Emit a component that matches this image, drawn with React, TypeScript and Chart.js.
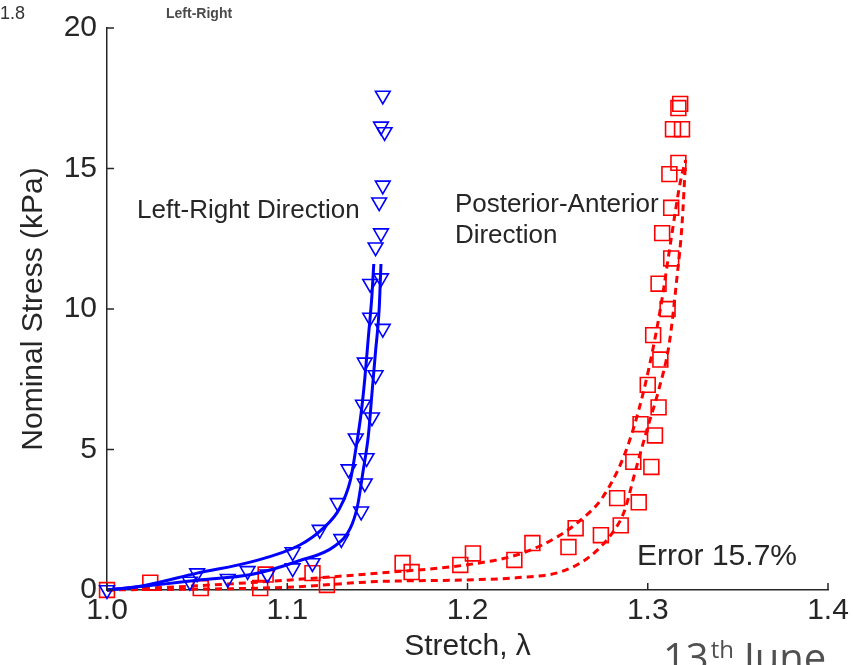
import React, { useEffect, useRef } from "react";
import { Chart, registerables } from "chart.js";

Chart.register(...registerables);

// ---- Data ----
// Left-Right direction measured points (stretch, stress kPa)
const lrStretch = [
  1.0, 1.046, 1.05, 1.067, 1.078, 1.089, 1.103, 1.103, 1.114, 1.118, 1.13,
  1.128, 1.141, 1.143, 1.134, 1.144, 1.138, 1.147, 1.142, 1.149, 1.143,
  1.153, 1.146, 1.146, 1.152, 1.149, 1.152, 1.151, 1.153, 1.154, 1.152, 1.153,
];
const lrStress = [
  0, 0.3, 0.6, 0.4, 0.68, 0.56, 1.35, 0.78, 0.96, 2.15, 1.82,
  3.1, 2.8, 3.8, 4.3, 4.7, 5.4, 6.15, 6.6, 7.65, 8.1,
  9.3, 9.7, 10.9, 11.1, 12.2, 12.7, 13.8, 14.4, 16.3, 16.5, 17.6,
];

// Left-Right model curves
const lrFitAStretch = [1.0, 1.02, 1.05, 1.08, 1.107, 1.12, 1.129, 1.135, 1.138, 1.141, 1.143, 1.145, 1.147, 1.148];
const lrFitAStress = [0, 0.15, 0.6, 1.0, 1.6, 2.2, 2.9, 3.9, 5.0, 6.3, 7.5, 9.0, 10.5, 11.6];
const lrFitBStretch = [1.0, 1.03, 1.05, 1.08, 1.107, 1.126, 1.135, 1.139, 1.142, 1.145, 1.147, 1.149, 1.151, 1.152];
const lrFitBStress = [0, 0.2, 0.35, 0.55, 1.05, 1.55, 2.2, 3.0, 4.2, 5.5, 7.0, 8.5, 10.0, 11.6];

// Posterior-Anterior direction measured points
const paStretch = [
  1.0, 1.024, 1.052, 1.085, 1.088, 1.114, 1.122, 1.164, 1.169, 1.196, 1.203,
  1.226, 1.236, 1.256, 1.26, 1.274, 1.285, 1.283, 1.295, 1.292, 1.302, 1.304,
  1.296, 1.306, 1.3, 1.307, 1.303, 1.311, 1.306, 1.313, 1.308, 1.313, 1.312,
  1.317, 1.314, 1.319, 1.317, 1.318,
];
const paStress = [
  0, 0.26, 0.07, 0.07, 0.55, 0.6, 0.18, 0.96, 0.64, 0.89, 1.3,
  1.07, 1.67, 1.53, 2.2, 1.95, 2.3, 3.27, 3.12, 4.56, 4.38, 5.5,
  5.9, 6.5, 7.3, 8.2, 9.07, 10.0, 10.9, 11.8, 12.7, 13.6, 14.8,
  15.2, 16.4, 16.4, 17.15, 17.3,
];

// Posterior-Anterior model curves
const paFitAStretch = [1.0, 1.05, 1.1, 1.15, 1.2, 1.23, 1.25, 1.263, 1.275, 1.287, 1.295, 1.301, 1.307, 1.313, 1.318, 1.321];
const paFitAStress = [0, 0.15, 0.35, 0.6, 0.9, 1.3, 1.9, 2.5, 3.3, 4.8, 6.4, 8.0, 10.0, 12.5, 14.5, 15.3];
const paFitBStretch = [1.0, 1.1, 1.15, 1.2, 1.23, 1.252, 1.268, 1.28, 1.287, 1.293, 1.3, 1.306, 1.312, 1.316, 1.319, 1.321];
const paFitBStress = [0, 0.1, 0.3, 0.36, 0.45, 0.65, 1.2, 2.0, 2.8, 4.2, 5.8, 7.1, 8.8, 11.0, 13.0, 15.3];

// Axis ranges / ticks
const xMin = 1.0;
const xMax = 1.4;
const xStep = 0.1;
const yMin = 0;
const yMax = 20;
const yStep = 5;

const xTitle = "Stretch, λ";
const yTitle = "Nominal Stress (kPa)";

const toPts = (xs: number[], ys: number[]) => xs.map((x, i) => ({ x, y: ys[i] }));

const AXIS = "#262626";
const FONT = "'Liberation Sans', Arial, sans-serif";

const inwardTicks = {
  id: "inwardTicks",
  afterDraw(chart: any) {
    const { ctx, chartArea, scales } = chart;
    const x = scales.x;
    const y = scales.y;
    ctx.save();
    ctx.strokeStyle = AXIS;
    ctx.lineWidth = 1.5;
    x.ticks.forEach((t: any) => {
      const px = x.getPixelForValue(t.value);
      ctx.beginPath();
      ctx.moveTo(px, chartArea.bottom);
      ctx.lineTo(px, chartArea.bottom - 7);
      ctx.stroke();
    });
    y.ticks.forEach((t: any) => {
      const py = y.getPixelForValue(t.value);
      ctx.beginPath();
      ctx.moveTo(chartArea.left, py);
      ctx.lineTo(chartArea.left + 7, py);
      ctx.stroke();
    });
    ctx.restore();
  },
};

const annotations = {
  id: "annotations",
  afterDraw(chart: any) {
    const { ctx, scales } = chart;
    const x = scales.x;
    const y = scales.y;
    ctx.save();
    ctx.textBaseline = "middle";
    ctx.textAlign = "left";
    ctx.fillStyle = "#262626";
    ctx.font = `26px ${FONT}`;
    ctx.fillText("Left-Right Direction", x.getPixelForValue(1.0167), y.getPixelForValue(13.5));
    ctx.fillText("Posterior-Anterior", x.getPixelForValue(1.193), y.getPixelForValue(13.7));
    ctx.fillText("Direction", x.getPixelForValue(1.193), y.getPixelForValue(12.6));
    ctx.font = `30px ${FONT}`;
    ctx.fillText("Error 15.7%", x.getPixelForValue(1.294), y.getPixelForValue(1.17));

    // cropped remnants around the figure
    ctx.fillStyle = "#333333";
    ctx.font = `18px ${FONT}`;
    ctx.textBaseline = "alphabetic";
    ctx.fillText("1.8", 0, 19);
    ctx.fillStyle = "#4a4a4a";
    ctx.font = `bold 14px ${FONT}`;
    ctx.fillText("Left-Right", 166, 18);

    ctx.fillStyle = "#505050";
    ctx.font = `40px 'Open Sans', sans-serif`;
    ctx.fillText("13", 663, 672);
    const w = ctx.measureText("13").width;
    ctx.font = `24px 'Open Sans', sans-serif`;
    ctx.fillText("th", 663 + w + 2, 658);
    const w2 = ctx.measureText("th").width;
    ctx.font = `40px 'Open Sans', sans-serif`;
    ctx.fillText("June", 663 + w + w2 + 12, 672);
    ctx.restore();
  },
};

export default function App() {
  const ref = useRef<HTMLCanvasElement | null>(null);

  useEffect(() => {
    document.body.style.margin = "0";
    const canvas = ref.current;
    if (!canvas) return;
    const lineCommon = {
      showLine: true,
      borderWidth: 3,
      pointRadius: 0,
      fill: false,
      cubicInterpolationMode: "monotone" as const,
      clip: false as const,
    };
    const chart = new Chart(canvas, {
      type: "scatter",
      data: {
        datasets: [
          {
            label: "LR fit A",
            data: toPts(lrFitAStretch, lrFitAStress),
            borderColor: "#0000ff",
            ...lineCommon,
          },
          {
            label: "LR fit B",
            data: toPts(lrFitBStretch, lrFitBStress),
            borderColor: "#0000ff",
            ...lineCommon,
          },
          {
            label: "Left-Right",
            data: toPts(lrStretch, lrStress),
            pointStyle: "triangle",
            rotation: 180,
            pointRadius: 8.5,
            borderColor: "#0000ff",
            backgroundColor: "rgba(0,0,0,0)",
            borderWidth: 1.6,
            clip: false,
          },
          {
            label: "PA fit A",
            data: toPts(paFitAStretch, paFitAStress),
            borderColor: "#ff0000",
            borderDash: [7, 5],
            ...lineCommon,
          },
          {
            label: "PA fit B",
            data: toPts(paFitBStretch, paFitBStress),
            borderColor: "#ff0000",
            borderDash: [7, 5],
            ...lineCommon,
          },
          {
            label: "Posterior-Anterior",
            data: toPts(paStretch, paStress),
            pointStyle: "rect",
            pointRadius: 10.5,
            borderColor: "#ff0000",
            backgroundColor: "rgba(0,0,0,0)",
            borderWidth: 1.6,
            clip: false,
          },
        ],
      },
      options: {
        animation: false,
        responsive: false,
        events: [],
        layout: { padding: { top: 28, right: 25, left: 0, bottom: 0 } },
        plugins: {
          legend: { display: false },
          tooltip: { enabled: false },
        },
        scales: {
          x: {
            type: "linear",
            min: xMin,
            max: xMax,
            afterFit: (s: any) => {
              s.height = 75;
            },
            ticks: {
              stepSize: xStep,
              padding: 3,
              color: AXIS,
              font: { family: FONT, size: 30 },
              maxRotation: 0,
              callback: (v: any) => Number(v).toFixed(1),
            },
            grid: { display: true, drawOnChartArea: false, drawTicks: false },
            border: { display: true, color: AXIS, width: 1.5 },
            title: {
              display: true,
              text: xTitle,
              color: AXIS,
              font: { family: FONT, size: 30 },
              padding: { top: 0, bottom: 0 },
            },
          },
          y: {
            type: "linear",
            min: yMin,
            max: yMax,
            afterFit: (s: any) => {
              s.width = 107;
            },
            ticks: {
              stepSize: yStep,
              padding: 10,
              color: AXIS,
              font: { family: FONT, size: 30 },
            },
            grid: { display: true, drawOnChartArea: false, drawTicks: false },
            border: { display: true, color: AXIS, width: 1.5 },
            title: {
              display: true,
              text: yTitle,
              color: AXIS,
              font: { family: FONT, size: 30 },
              padding: { top: 16, bottom: 0 },
            },
          },
        },
      },
      plugins: [inwardTicks, annotations],
    });
    return () => chart.destroy();
  }, []);

  return (
    <div style={{ position: "fixed", left: 0, top: 0, width: 853, height: 665, background: "#fff" }}>
      <canvas ref={ref} width={853} height={665} style={{ display: "block", width: 853, height: 665 }} />
    </div>
  );
}
